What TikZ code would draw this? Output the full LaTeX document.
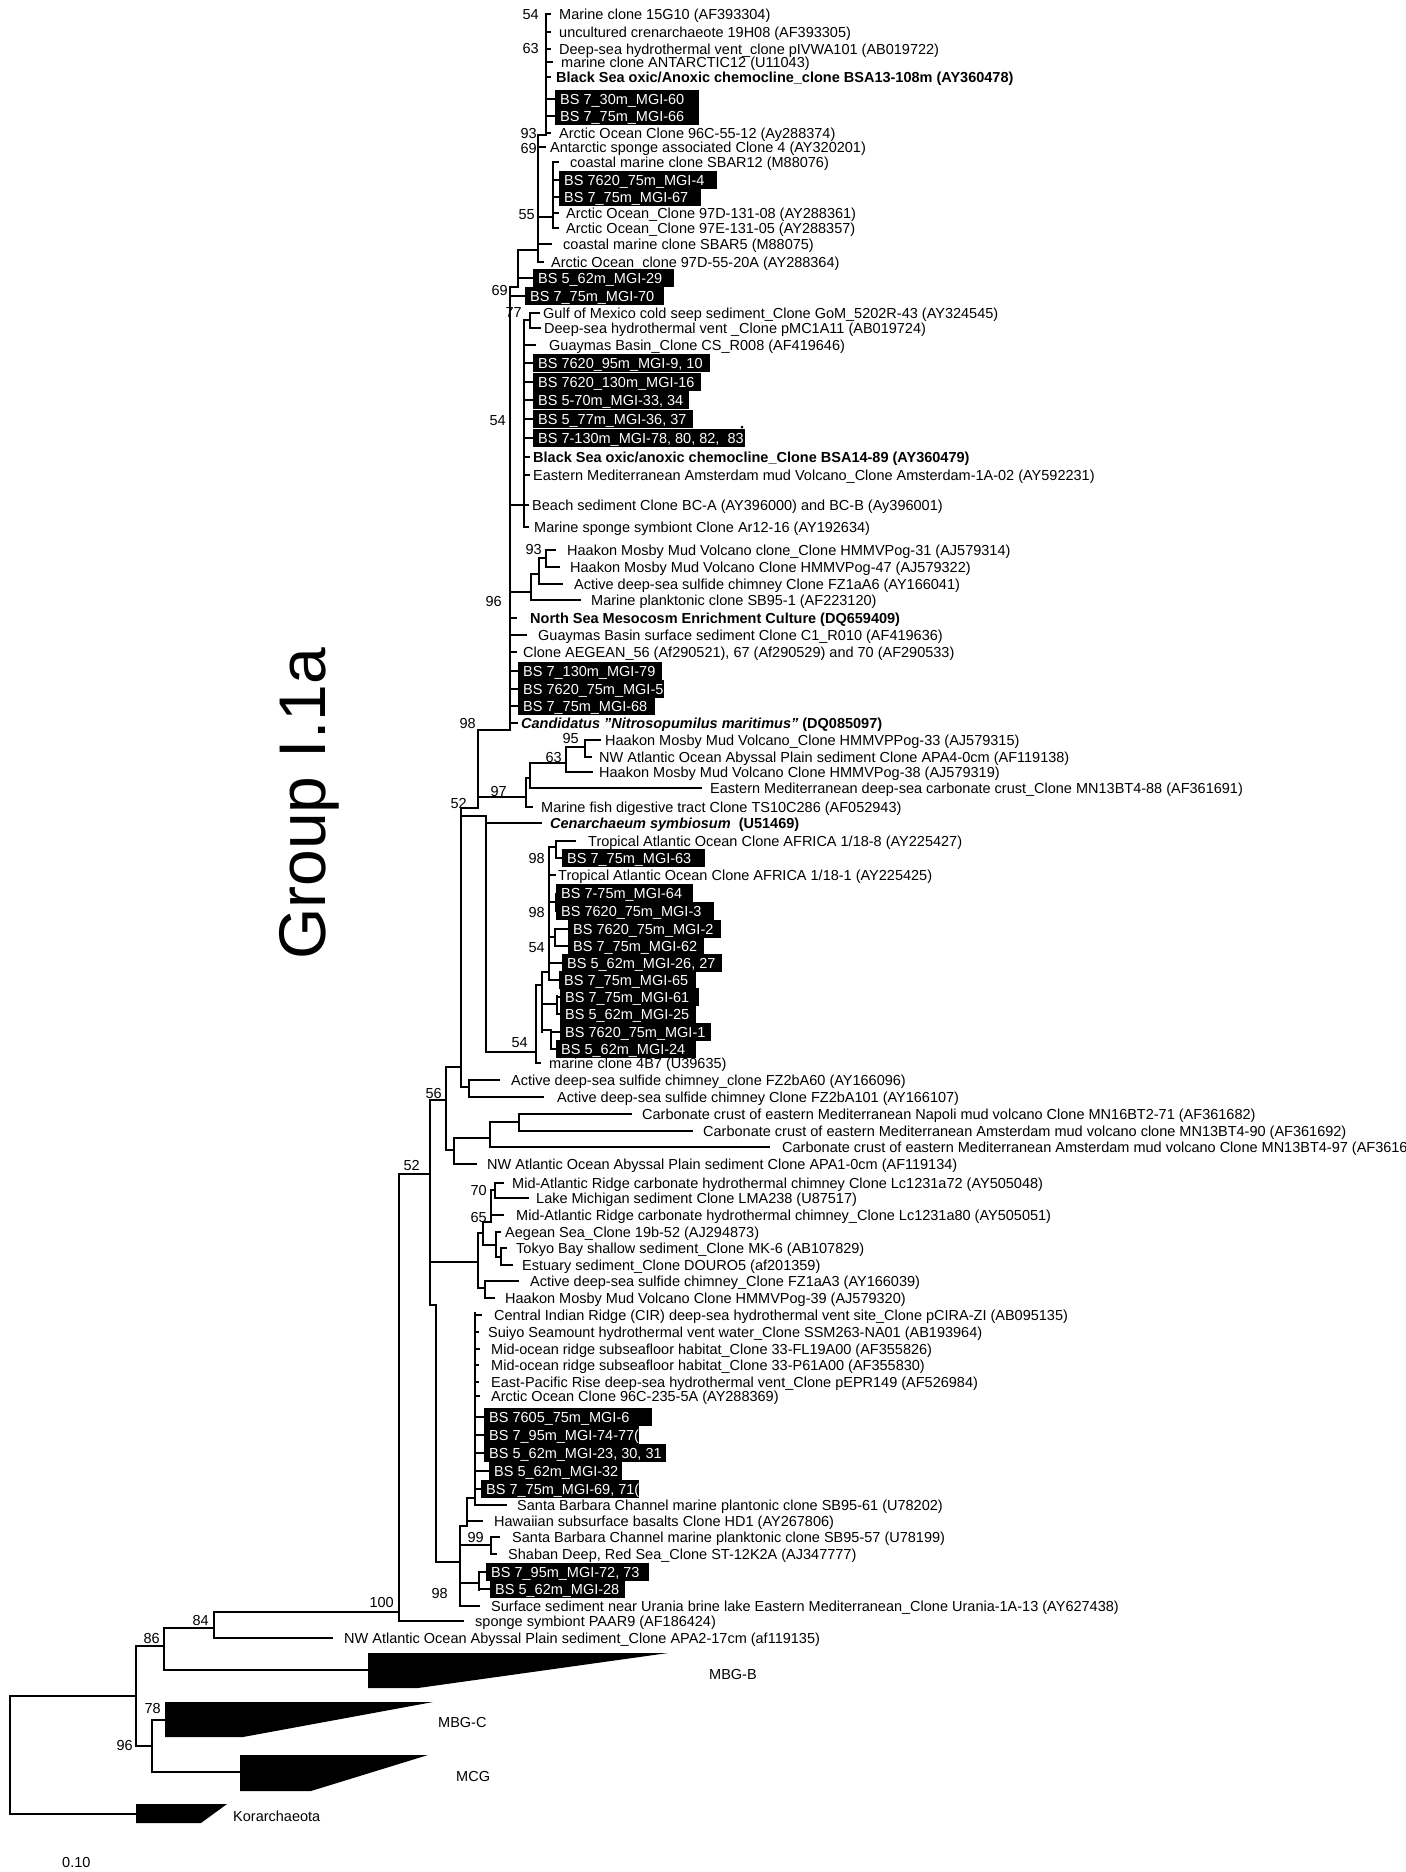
\documentclass[tikz,border=0pt]{standalone}
\usepackage{fontspec}
\setmainfont{Liberation Sans}
\newcommand\hb[3]{\draw[br] (#1,#3) -- (#2,#3);}
\newcommand\vb[3]{\draw[br] (#1,#2) -- (#1,#3);}
\newcommand\leafn[6]{\draw[br] (#2,#5) -- (#3,#5); \node[lbl] (#1) at (#4,#5) {#6};}
\newcommand\boxl[6]{\draw[br] (#2,#5) -- (#3,#5); \fill (#3,#5-9) rectangle (#4,#5+9); \node[wl] (#1) at (#3+5,#5) {#6};}
\newcommand\bsv[4]{\node[bs] (#1) at (#2,#3) {#4};}
\begin{document}
\begin{tikzpicture}[x=1pt,y=-1pt,
  br/.style={line width=2pt, line cap=rect},
  lbl/.style={anchor=base west, yshift=-5pt, inner sep=0pt, font=\fontsize{14.5}{16}\selectfont},
  wl/.style={lbl, text=white},
  bs/.style={anchor=base east, yshift=-5pt, inner sep=0pt, font=\fontsize{14.5}{16}\selectfont}]
\useasboundingbox[fill=white] (0,0) rectangle (1406,1872);

% ---------- top clade
\vb{546}{14}{135}
\leafn{l1}{546}{550}{559}{14}{Marine clone 15G10 (AF393304)}
\leafn{l2}{546}{550}{559}{32}{uncultured crenarchaeote 19H08 (AF393305)}
\leafn{l3}{546}{550}{559}{49}{Deep-sea hydrothermal vent\_clone pIVWA101 (AB019722)}
\leafn{l4}{546}{552}{561}{62}{marine clone ANTARCTIC12 (U11043)}
\leafn{l5}{546}{550}{556}{77}{\bfseries Black Sea oxic/Anoxic chemocline\_clone BSA13-108m (AY360478)}
\boxl{l6}{546}{555}{699}{99}{BS 7\_30m\_MGI-60}
\boxl{l7}{546}{555}{699}{116}{BS 7\_75m\_MGI-66}
\leafn{l8}{546}{550}{559}{133}{Arctic Ocean Clone 96C-55-12 (Ay288374)}
\bsv{b1}{539}{14}{54}
\bsv{b2}{539}{48}{63}
\bsv{b3}{537}{133}{93}
\bsv{b4}{537}{148}{69}
\hb{538}{546}{135}
\vb{538}{135}{262}
\leafn{l9}{538}{545}{550}{147}{Antarctic sponge associated Clone 4 (AY320201)}
\hb{538}{553}{217}
\vb{553}{162}{228}
\leafn{l10}{553}{558}{570}{162}{coastal marine clone SBAR12 (M88076)}
\boxl{l11}{553}{559}{717}{180}{BS 7620\_75m\_MGI-4}
\boxl{l12}{553}{559}{701}{197}{BS 7\_75m\_MGI-67}
\leafn{l13}{553}{558}{566}{213}{Arctic Ocean\_Clone 97D-131-08 (AY288361)}
\leafn{l14}{553}{558}{566}{228}{Arctic Ocean\_Clone 97E-131-05 (AY288357)}
\bsv{b5}{535}{214}{55}
\leafn{l15}{538}{551}{563}{244}{coastal marine clone SBAR5 (M88075)}
\leafn{l16}{538}{543}{551}{262}{Arctic Ocean\_clone 97D-55-20A (AY288364)}
\hb{518}{538}{250}
\vb{518}{250}{287}
\boxl{l17}{518}{533}{674}{278}{BS 5\_62m\_MGI-29}
\hb{510}{518}{287}
\bsv{b6}{508}{290}{69}
\vb{510}{287}{730}
\boxl{l18}{510}{525}{664}{296}{BS 7\_75m\_MGI-70}
% polytomy 524
\hb{510}{524}{505}
\vb{524}{320}{527}
\hb{524}{530}{320}
\vb{530}{313}{328}
\bsv{b7}{522}{312}{77}
\leafn{l19}{530}{539}{543}{313}{Gulf of Mexico cold seep sediment\_Clone GoM\_5202R-43 (AY324545)}
\leafn{l20}{530}{540}{544}{328}{Deep-sea hydrothermal vent \_Clone pMC1A11 (AB019724)}
\leafn{l21}{524}{535}{549}{345}{Guaymas Basin\_Clone CS\_R008 (AF419646)}
\boxl{l22}{524}{533}{710}{363}{BS 7620\_95m\_MGI-9, 10}
\boxl{l23}{524}{533}{701}{382}{BS 7620\_130m\_MGI-16}
\boxl{l24}{524}{533}{689}{400}{BS 5-70m\_MGI-33, 34}
\boxl{l25}{524}{533}{693}{419}{BS 5\_77m\_MGI-36, 37}
\boxl{l26}{524}{533}{745}{438}{BS 7-130m\_MGI-78, 80, 82,\ \ 83}
\fill (742,427) circle (1.5);
\bsv{b8}{506}{420}{54}
\leafn{l27}{524}{529}{533}{457}{\bfseries Black Sea oxic/anoxic chemocline\_Clone BSA14-89 (AY360479)}
\leafn{l28}{524}{529}{533}{475}{Eastern Mediterranean Amsterdam mud Volcano\_Clone Amsterdam-1A-02 (AY592231)}
\leafn{l29}{524}{528}{532}{505}{Beach sediment Clone BC-A (AY396000) and BC-B (Ay396001)}
\leafn{l30}{524}{528}{534}{527}{Marine sponge symbiont Clone Ar12-16 (AY192634)}
% Haakon group
\hb{510}{531}{592}
\vb{531}{574}{600}
\hb{531}{539}{574}
\vb{539}{558}{584}
\hb{539}{546}{558}
\vb{546}{550}{567}
\bsv{b9}{542}{549}{93}
\leafn{l31}{546}{555}{567}{550}{Haakon Mosby Mud Volcano clone\_Clone HMMVPog-31 (AJ579314)}
\leafn{l32}{546}{559}{570}{567}{Haakon Mosby Mud Volcano Clone HMMVPog-47 (AJ579322)}
\leafn{l33}{539}{562}{574}{584}{Active deep-sea sulfide chimney Clone FZ1aA6 (AY166041)}
\leafn{l34}{531}{580}{591}{600}{Marine planktonic clone SB95-1 (AF223120)}
\bsv{b10}{502}{601}{96}
\leafn{l35}{510}{516}{530}{618}{\bfseries North Sea Mesocosm Enrichment Culture (DQ659409)}
\leafn{l36}{510}{526}{538}{635}{Guaymas Basin surface sediment Clone C1\_R010 (AF419636)}
\leafn{l37}{510}{516}{523}{652}{Clone AEGEAN\_56 (Af290521), 67 (Af290529) and 70 (AF290533)}
\boxl{l38}{510}{518}{662}{671}{BS 7\_130m\_MGI-79}
\boxl{l39}{510}{518}{664}{689}{BS 7620\_75m\_MGI-5}
\boxl{l40}{510}{518}{655}{706}{BS 7\_75m\_MGI-68}
\leafn{l41}{510}{517}{521}{723}{\bfseries\itshape Candidatus "Nitrosopumilus maritimus"\upshape{} (DQ085097)}
% node 98 / 97
\hb{478}{510}{730}
\bsv{b11}{476}{723}{98}
\vb{478}{730}{808}
\hb{478}{526}{797}
\bsv{b12}{507}{791}{97}
\vb{526}{778}{807}
\hb{526}{530}{778}
\vb{530}{763}{788}
\hb{530}{566}{763}
\bsv{b13}{562}{757}{63}
\vb{566}{747}{772}
\hb{566}{585}{747}
\bsv{b14}{579}{738}{95}
\vb{585}{740}{757}
\leafn{l42}{585}{600}{605}{740}{Haakon Mosby Mud Volcano\_Clone HMMVPPog-33 (AJ579315)}
\leafn{l43}{585}{591}{599}{757}{NW Atlantic Ocean Abyssal Plain sediment Clone APA4-0cm (AF119138)}
\leafn{l44}{566}{592}{599}{772}{Haakon Mosby Mud Volcano Clone HMMVPog-38 (AJ579319)}
\leafn{l45}{530}{701}{710}{788}{Eastern Mediterranean deep-sea carbonate crust\_Clone MN13BT4-88 (AF361691)}
\leafn{l46}{526}{532}{541}{807}{Marine fish digestive tract Clone TS10C286 (AF052943)}
% node 52
\hb{461}{478}{808}
\bsv{b15}{467}{803}{52}
\vb{461}{808}{1087}
\hb{461}{486}{816}
\vb{486}{816}{1052}
\leafn{l47}{486}{541}{550}{823}{\bfseries\itshape Cenarchaeum symbiosum\upshape\ \ (U51469)}
% AFRICA / BS clade
\hb{486}{536}{1052}
\bsv{b16}{528}{1042}{54}
\vb{536}{985}{1062}
\leafn{l61}{536}{540}{549}{1063}{marine clone 4B7 (U39635)}
\hb{536}{542}{985}
\vb{542}{972}{1032}
\hb{542}{549}{972}
\vb{549}{847}{978}
\hb{549}{556}{847}
\vb{556}{841}{858}
\leafn{l48}{556}{575}{588}{841}{Tropical Atlantic Ocean Clone AFRICA 1/18-8 (AY225427)}
\boxl{l49}{556}{562}{705}{858}{BS 7\_75m\_MGI-63}
\bsv{b17}{545}{858}{98}
\leafn{l50}{549}{555}{558}{875}{Tropical Atlantic Ocean Clone AFRICA 1/18-1 (AY225425)}
\hb{549}{556}{902}
\vb{556}{894}{911}
\boxl{l51}{556}{556}{693}{893}{BS 7-75m\_MGI-64}
\boxl{l52}{556}{556}{714}{911}{BS 7620\_75m\_MGI-3}
\bsv{b18}{545}{912}{98}
\hb{549}{555}{937}
\vb{555}{929}{945}
\boxl{l53}{555}{568}{721}{929}{BS 7620\_75m\_MGI-2}
\boxl{l54}{555}{568}{704}{946}{BS 7\_75m\_MGI-62}
\bsv{b19}{545}{947}{54}
\boxl{l55}{549}{562}{722}{963}{BS 5\_62m\_MGI-26, 27}
\boxl{l56}{549}{559}{696}{980}{BS 7\_75m\_MGI-65}
\hb{542}{557}{1004}
\vb{557}{996}{1014}
\boxl{l57}{557}{560}{699}{997}{BS 7\_75m\_MGI-61}
\boxl{l58}{557}{560}{696}{1014}{BS 5\_62m\_MGI-25}
\hb{542}{551}{1030}
\vb{551}{1030}{1049}
\boxl{l59}{551}{560}{711}{1032}{BS 7620\_75m\_MGI-1}
\boxl{l60}{551}{556}{696}{1049}{BS 5\_62m\_MGI-24}
% FZ2b
\hb{461}{469}{1087}
\vb{469}{1080}{1097}
\leafn{l62}{469}{499}{511}{1080}{Active deep-sea sulfide chimney\_clone FZ2bA60 (AY166096)}
\leafn{l63}{469}{543}{557}{1097}{Active deep-sea sulfide chimney Clone FZ2bA101 (AY166107)}
% node 56
\hb{446}{461}{1067}
\vb{446}{1067}{1150}
\bsv{b20}{442}{1093}{56}
\hb{430}{446}{1100}
\hb{446}{454}{1150}
\vb{454}{1138}{1164}
\leafn{l67}{454}{476}{487}{1164}{NW Atlantic Ocean Abyssal Plain sediment Clone APA1-0cm (AF119134)}
\hb{454}{490}{1138}
\vb{490}{1122}{1147}
\leafn{l66}{490}{769}{782}{1147}{Carbonate crust of eastern Mediterranean Amsterdam mud volcano Clone MN13BT4-97 (AF36169}
\hb{490}{519}{1122}
\vb{519}{1114}{1131}
\leafn{l64}{519}{631}{642}{1114}{Carbonate crust of eastern Mediterranean Napoli mud volcano Clone MN16BT2-71 (AF361682)}
\leafn{l65}{519}{692}{703}{1131}{Carbonate crust of eastern Mediterranean Amsterdam mud volcano clone MN13BT4-90 (AF361692)}
% node 52b
\vb{430}{1100}{1305}
\hb{399}{430}{1174}
\bsv{b21}{420}{1165}{52}
% middle group
\vb{495}{1183}{1198}
\hb{491}{495}{1190}
\leafn{l68}{495}{503}{512}{1183}{Mid-Atlantic Ridge carbonate hydrothermal chimney Clone Lc1231a72 (AY505048)}
\leafn{l69}{495}{528}{536}{1198}{Lake Michigan sediment Clone LMA238 (U87517)}
\bsv{b22}{487}{1190}{70}
\vb{491}{1190}{1222}
\leafn{l70}{491}{503}{516}{1215}{Mid-Atlantic Ridge carbonate hydrothermal chimney\_Clone Lc1231a80 (AY505051)}
\bsv{b23}{487}{1217}{65}
\hb{483}{491}{1222}
\vb{483}{1222}{1245}
\hb{483}{496}{1245}
\vb{496}{1232}{1257}
\leafn{l71}{496}{500}{505}{1232}{Aegean Sea\_Clone 19b-52 (AJ294873)}
\hb{496}{501}{1257}
\vb{501}{1248}{1265}
\leafn{l72}{501}{506}{516}{1248}{Tokyo Bay shallow sediment\_Clone MK-6 (AB107829)}
\leafn{l73}{501}{512}{522}{1265}{Estuary sediment\_Clone DOURO5 (af201359)}
\vb{478}{1233}{1288}
\hb{478}{483}{1233}
\hb{478}{485}{1288}
\vb{485}{1281}{1298}
\leafn{l74}{485}{518}{530}{1281}{Active deep-sea sulfide chimney\_Clone FZ1aA3 (AY166039)}
\leafn{l75}{485}{494}{505}{1298}{Haakon Mosby Mud Volcano Clone HMMVPog-39 (AJ579320)}
\hb{430}{478}{1262}
% lower group
\hb{430}{436}{1305}
\vb{436}{1305}{1562}
\vb{475}{1313}{1505}
\leafn{l76}{475}{481}{494}{1315}{Central Indian Ridge (CIR) deep-sea hydrothermal vent site\_Clone pCIRA-ZI (AB095135)}
\leafn{l77}{475}{478}{488}{1332}{Suiyo Seamount hydrothermal vent water\_Clone SSM263-NA01 (AB193964)}
\leafn{l78}{475}{479}{491}{1349}{Mid-ocean ridge subseafloor habitat\_Clone 33-FL19A00 (AF355826)}
\leafn{l79}{475}{478}{491}{1365}{Mid-ocean ridge subseafloor habitat\_Clone 33-P61A00 (AF355830)}
\leafn{l80}{475}{478}{491}{1382}{East-Pacific Rise deep-sea hydrothermal vent\_Clone pEPR149 (AF526984)}
\leafn{l81}{475}{479}{491}{1396}{Arctic Ocean Clone 96C-235-5A (AY288369)}
\boxl{l82}{475}{484}{652}{1417}{BS 7605\_75m\_MGI-6}
\boxl{l83}{475}{484}{639}{1435}{BS 7\_95m\_MGI-74-77(}
\boxl{l84}{475}{484}{666}{1453}{BS 5\_62m\_MGI-23, 30, 31 (}
\boxl{l85}{475}{489}{622}{1471}{BS 5\_62m\_MGI-32}
\boxl{l86}{475}{481}{639}{1489}{BS 7\_75m\_MGI-69, 71(}
\leafn{l87}{475}{506}{517}{1505}{Santa Barbara Channel marine plantonic clone SB95-61 (U78202)}
\hb{467}{475}{1498}
\vb{467}{1498}{1526}
\leafn{l88}{467}{482}{494}{1521}{Hawaiian subsurface basalts Clone HD1 (AY267806)}
\hb{436}{460}{1562}
\vb{460}{1526}{1606}
\hb{460}{467}{1526}
\hb{460}{491}{1545}
\vb{491}{1537}{1554}
\bsv{b24}{484}{1537}{99}
\leafn{l89}{491}{499}{512}{1537}{Santa Barbara Channel marine planktonic clone SB95-57 (U78199)}
\leafn{l90}{491}{496}{508}{1554}{Shaban Deep, Red Sea\_Clone ST-12K2A (AJ347777)}
\hb{460}{479}{1583}
\vb{479}{1572}{1590}
\boxl{l91}{479}{486}{649}{1572}{BS 7\_95m\_MGI-72, 73}
\boxl{l92}{479}{490}{625}{1589}{BS 5\_62m\_MGI-28}
\bsv{b25}{448}{1593}{98}
\leafn{l93}{460}{479}{491}{1606}{Surface sediment near Urania brine lake Eastern Mediterranean\_Clone Urania-1A-13 (AY627438)}
% node 100 and base
\vb{399}{1174}{1621}
\bsv{b26}{394}{1602}{100}
\leafn{l94}{399}{463}{475}{1621}{sponge symbiont PAAR9 (AF186424)}
\hb{214}{399}{1612}
\bsv{b27}{209}{1620}{84}
\vb{214}{1612}{1638}
\leafn{l95}{214}{332}{344}{1638}{NW Atlantic Ocean Abyssal Plain sediment\_Clone APA2-17cm (af119135)}
\hb{164}{214}{1628}
\vb{164}{1628}{1670}
\bsv{b28}{160}{1638}{86}
\hb{136}{164}{1646}
\hb{164}{368}{1670}
\vb{136}{1646}{1746}
\hb{10}{136}{1696}
\hb{136}{152}{1746}
\bsv{b29}{133}{1745}{96}
\vb{152}{1720}{1772}
\hb{152}{165}{1720}
\bsv{b30}{161}{1708}{78}
\hb{152}{240}{1772}
\vb{10}{1696}{1814}
\hb{10}{136}{1814}
% collapsed groups
\fill (368,1653) -- (668,1653) -- (418,1688) -- (368,1688) -- cycle;
\fill (165,1702) -- (433,1702) -- (243,1737) -- (165,1737) -- cycle;
\fill (240,1755) -- (428,1755) -- (311,1791) -- (240,1791) -- cycle;
\fill (136,1804) -- (227,1804) -- (201,1823) -- (136,1823) -- cycle;
\node[lbl] (mbgb) at (709,1674) {MBG-B};
\node[lbl] (mbgc) at (438,1722) {MBG-C};
\node[lbl] (mcg) at (456,1776) {MCG};
\node[lbl] (kor) at (233,1816) {Korarchaeota};
\node[lbl] (scale) at (62,1862) {0.10};
% group label
\node[rotate=90, anchor=base, inner sep=0pt, font=\fontsize{66}{70}\selectfont] (grp) at (325,804) {Group I.1a};
\end{tikzpicture}
\end{document}
